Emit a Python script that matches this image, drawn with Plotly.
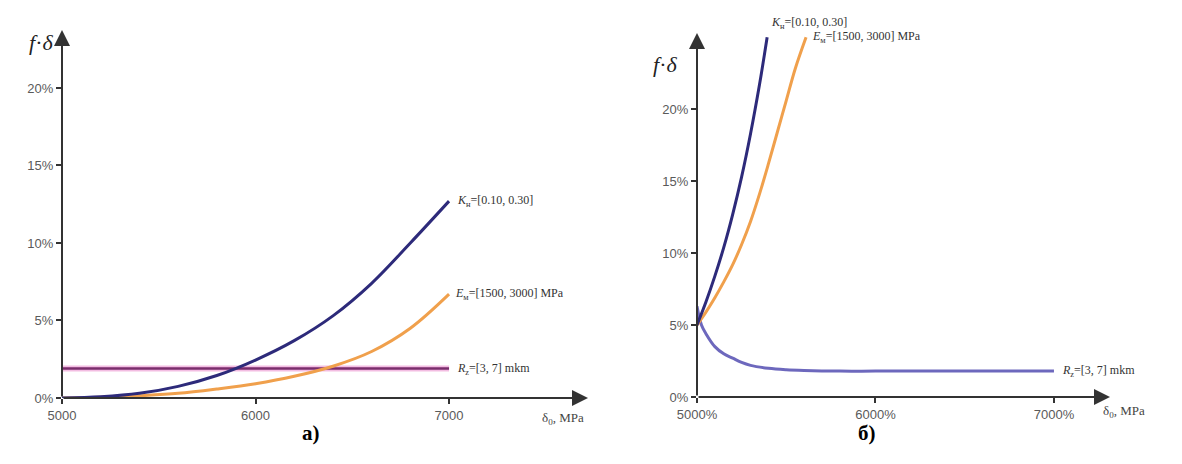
import plotly.graph_objects as go

# ---------------- data: panel a) ----------------
a_x = [5000, 5200, 5400, 5600, 5800, 6000, 6200, 6400, 6600, 6800, 7000]
a_kn = [0.0, 0.08, 0.3, 0.75, 1.45, 2.45, 3.7, 5.3, 7.4, 10.0, 12.7]
a_em = [0.0, 0.05, 0.15, 0.3, 0.58, 0.92, 1.4, 2.05, 3.0, 4.5, 6.7]
a_rz = [1.9] * len(a_x)

# ---------------- data: panel б) ----------------
b_kn_x = [5000, 5050, 5100, 5150, 5200, 5250, 5300, 5350, 5393]
b_kn = [5.0, 6.6, 8.4, 10.4, 12.7, 15.3, 18.3, 21.7, 25.0]
b_em_x = [5000, 5050, 5100, 5150, 5200, 5250, 5300, 5350, 5400, 5450, 5500, 5550, 5611]
b_em = [5.0, 5.9, 6.9, 8.0, 9.2, 10.6, 12.2, 14.1, 16.2, 18.4, 20.6, 22.8, 25.0]
b_rz_x = [5000, 5025, 5050, 5100, 5150, 5200, 5250, 5300, 5400, 5500, 5600, 5800, 6000, 6500, 7000]
b_rz = [6.3, 5.0, 4.4, 3.5, 3.0, 2.7, 2.4, 2.2, 2.0, 1.9, 1.85, 1.8, 1.8, 1.8, 1.8]

y_ticks = [0, 5, 10, 15, 20]
y_tick_text = ["0%", "5%", "10%", "15%", "20%"]
x_ticks = [5000, 6000, 7000]
a_x_tick_text = ["5000", "6000", "7000"]
b_x_tick_text = ["5000%", "6000%", "7000%"]

lbl_kn = "<i>K</i><sub>н</sub>=[0.10, 0.30]"
lbl_em = "<i>E</i><sub>м</sub>=[1500, 3000] MPa"
lbl_rz = "<i>R</i><sub>z</sub>=[3, 7] mkm"

BLUE = "#2d2a7a"
ORANGE = "#f0a04c"
PURPLE = "#7a2d6c"
PINK = "#f3bde2"
SLATE = "#6d68bd"
AX = "#333333"

# page has an 8px body margin; figure fills the rest of the 1182x464 window
OFF = 8
W, H = 1182 - OFF, 464 - OFF


def px(x):
    return (x - OFF) / W


def py(y):
    return 1 - (y - OFF) / H


a_range_x = [5000, 7718]
a_range_y = [0, 23.74]
b_range_x = [5000, 7314]
b_range_y = [0, 25.3]

fig = go.Figure()

# panel a
fig.add_trace(go.Scatter(x=a_x, y=a_rz, mode="lines", line=dict(color=PINK, width=6),
                         xaxis="x", yaxis="y", hoverinfo="skip"))
fig.add_trace(go.Scatter(x=a_x, y=a_rz, mode="lines", line=dict(color=PURPLE, width=2.5),
                         xaxis="x", yaxis="y"))
fig.add_trace(go.Scatter(x=a_x, y=a_em, mode="lines", line=dict(color=ORANGE, width=3, shape="spline"),
                         xaxis="x", yaxis="y"))
fig.add_trace(go.Scatter(x=a_x, y=a_kn, mode="lines", line=dict(color=BLUE, width=3, shape="spline"),
                         xaxis="x", yaxis="y"))

# panel b
fig.add_trace(go.Scatter(x=b_rz_x, y=b_rz, mode="lines", line=dict(color=SLATE, width=3, shape="spline"),
                         xaxis="x2", yaxis="y2"))
fig.add_trace(go.Scatter(x=b_em_x, y=b_em, mode="lines", line=dict(color=ORANGE, width=3, shape="spline"),
                         xaxis="x2", yaxis="y2"))
fig.add_trace(go.Scatter(x=b_kn_x, y=b_kn, mode="lines", line=dict(color=BLUE, width=3, shape="spline"),
                         xaxis="x2", yaxis="y2"))

tickfont = dict(family="Liberation Sans, Arial, sans-serif", size=13, color="#5a5a5a")


def xax(domain, rng, text, anchor):
    return dict(domain=domain, range=rng, tickvals=x_ticks, ticktext=text, showgrid=False,
                zeroline=False, showline=False, ticks="outside", ticklen=5, tickwidth=2,
                tickcolor=AX, tickfont=tickfont, anchor=anchor, fixedrange=True, automargin=False)


def yax(domain, rng, anchor):
    return dict(domain=domain, range=rng, tickvals=y_ticks, ticktext=y_tick_text, showgrid=False,
                zeroline=False, showline=False, ticks="outside", ticklen=5, tickwidth=2,
                tickcolor=AX, tickfont=tickfont, anchor=anchor, fixedrange=True, automargin=False)


fig.update_layout(
    width=W, height=H, margin=dict(l=0, r=0, t=0, b=0, autoexpand=False),
    paper_bgcolor="white", plot_bgcolor="rgba(0,0,0,0)", showlegend=False,
    xaxis=xax([px(62), px(588)], a_range_x, a_x_tick_text, "y"),
    yaxis=yax([py(398), py(30)], a_range_y, "x"),
    xaxis2=xax([px(697), px(1110)], b_range_x, b_x_tick_text, "y2"),
    yaxis2=yax([py(397), py(33)], b_range_y, "x2"),
)

ann = []
# axis arrows
for xr, yr, rx, ry in [("x", "y", a_range_x, a_range_y), ("x2", "y2", b_range_x, b_range_y)]:
    ann.append(dict(x=rx[1], y=0, ax=rx[0], ay=0, xref=xr, yref=yr, axref=xr, ayref=yr,
                    showarrow=True, arrowhead=2, arrowsize=1.6, arrowwidth=2, arrowcolor=AX,
                    standoff=0, text=""))
    ann.append(dict(x=rx[0], y=ry[1], ax=rx[0], ay=0, xref=xr, yref=yr, axref=xr, ayref=yr,
                    showarrow=True, arrowhead=2, arrowsize=1.6, arrowwidth=2, arrowcolor=AX,
                    standoff=0, text=""))

serif = dict(family="Liberation Serif, Times New Roman, serif", size=12, color="#333333")
# series labels panel a
ann.append(dict(x=a_x[-1], y=a_kn[-1], xref="x", yref="y", text=lbl_kn, showarrow=False,
                xanchor="left", xshift=6, font=serif))
ann.append(dict(x=a_x[-1], y=a_em[-1], xref="x", yref="y", text=lbl_em, showarrow=False,
                xanchor="left", xshift=4, font=serif))
ann.append(dict(x=a_x[-1], y=a_rz[-1], xref="x", yref="y", text=lbl_rz, showarrow=False,
                xanchor="left", xshift=6, font=serif))
# series labels panel b
ann.append(dict(x=b_kn_x[-1], y=b_kn[-1], xref="x2", yref="y2", text=lbl_kn, showarrow=False,
                xanchor="left", yanchor="bottom", xshift=2, yshift=4, font=serif))
ann.append(dict(x=b_em_x[-1], y=b_em[-1], xref="x2", yref="y2", text=lbl_em, showarrow=False,
                xanchor="left", xshift=4, font=serif))
ann.append(dict(x=b_rz_x[-1], y=b_rz[-1], xref="x2", yref="y2", text=lbl_rz, showarrow=False,
                xanchor="left", xshift=6, font=serif))

# axis titles
ytitle_font = dict(family="Liberation Serif, Times New Roman, serif", size=22, color="#222222")
ann.append(dict(x=px(27), y=py(28), xref="paper", yref="paper", text="<i>f</i>·<i>δ</i>",
                showarrow=False, font=ytitle_font))
ann.append(dict(x=px(665), y=py(50), xref="paper", yref="paper", text="<i>f</i>·<i>δ</i>",
                showarrow=False, font=ytitle_font))
xtitle_font = dict(family="Liberation Serif, Times New Roman, serif", size=13, color="#444444")
ann.append(dict(x=px(563), y=py(429), xref="paper", yref="paper", text="δ<sub>0</sub>, MPa",
                showarrow=False, font=xtitle_font))
ann.append(dict(x=px(1147), y=py(422), xref="paper", yref="paper", text="δ<sub>0</sub>, MPa",
                showarrow=False, font=xtitle_font))
# panel letters
pfont = dict(family="Liberation Serif, Times New Roman, serif", size=21, color="#000000")
ann.append(dict(x=px(300), y=py(447), xref="paper", yref="paper", text="<b>а)</b>",
                showarrow=False, font=pfont))
ann.append(dict(x=px(878), y=py(447), xref="paper", yref="paper", text="<b>б)</b>",
                showarrow=False, font=pfont))

fig.update_layout(annotations=ann)
fig.write_html("out.html")
